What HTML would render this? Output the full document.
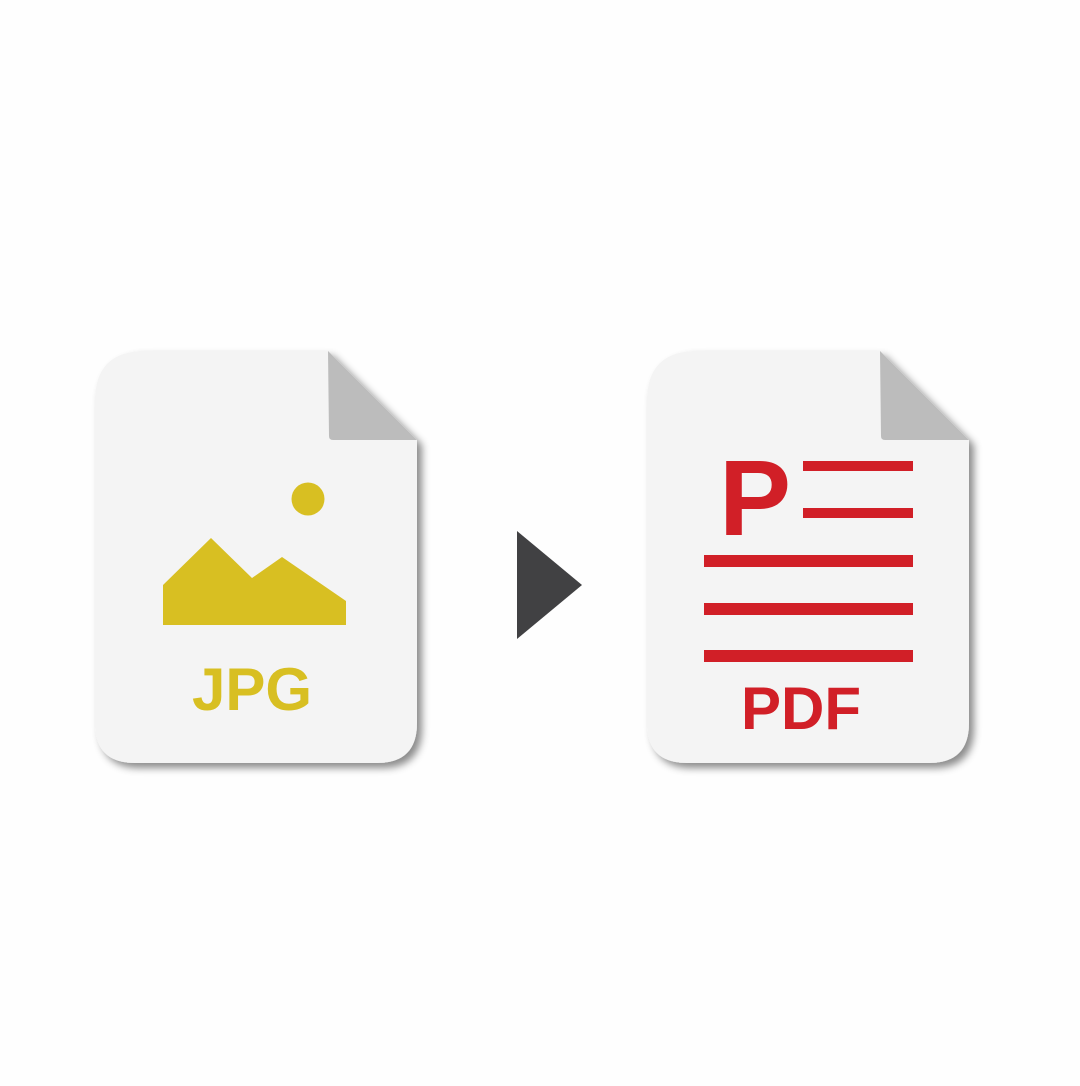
<!DOCTYPE html>
<html><head><style>body{margin:0;background:#fefefe}</style></head><body>
<svg width="1080" height="1081" viewBox="0 0 1080 1081" xmlns="http://www.w3.org/2000/svg">
<defs><filter id="s" x="-20%" y="-20%" width="140%" height="140%"><feDropShadow dx="5" dy="5" stdDeviation="4" flood-color="#000" flood-opacity="0.45"/></filter></defs>
<rect width="1080" height="1081" fill="#fefefe"/>
<g filter="url(#s)">
<path d="M145 351 H328 L417 440 V723 Q417 763 377 763 H135 Q95 763 95 723 V401 Q95 351 145 351 Z" fill="#f4f4f4"/>
<path d="M697 351 H880 L969 440 V723 Q969 763 929 763 H687 Q647 763 647 723 V401 Q647 351 697 351 Z" fill="#f4f4f4"/>
</g>
<path d="M328 351 L417 440 H333 Q329 440 329 436 Z" fill="#bcbcbc"/>
<path d="M880 351 L969 440 H885 Q881 440 881 436 Z" fill="#bcbcbc"/>
<circle cx="308" cy="499" r="16.5" fill="#d8bf22"/>
<polygon points="163,585 211,538 252,578 282,557 346,601 346,625 163,625" fill="#d8bf22"/>
<text x="252" y="710" font-family="Liberation Sans, sans-serif" font-weight="bold" font-size="60" fill="#d8bf22" text-anchor="middle">JPG</text>
<polygon points="517,531 582,585 517,639" fill="#414143"/>
<text x="755" y="535" font-family="Liberation Sans, sans-serif" font-weight="bold" font-size="108" fill="#d11f27" text-anchor="middle">P</text>
<g fill="#d11f27">
<rect x="803" y="461" width="110" height="10"/>
<rect x="803" y="508" width="110" height="10"/>
<rect x="704" y="555" width="209" height="12"/>
<rect x="704" y="603" width="209" height="12"/>
<rect x="704" y="650" width="209" height="12"/>
</g>
<text x="801" y="729" font-family="Liberation Sans, sans-serif" font-weight="bold" font-size="60" fill="#d11f27" text-anchor="middle">PDF</text>
</svg>
</body></html>
